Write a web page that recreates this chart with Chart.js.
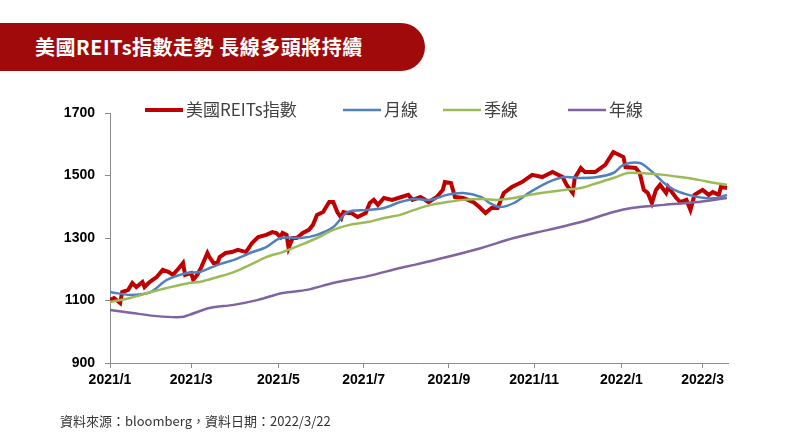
<!DOCTYPE html>
<html>
<head>
<meta charset="utf-8">
<script src="https://cdn.jsdelivr.net/npm/chart.js@4.4.0/dist/chart.umd.min.js"></script>
<style>
body{margin:0;width:800px;height:440px;background:#fff;position:relative;overflow:hidden;font-family:"Noto Sans CJK TC",sans-serif}
#banner{position:absolute;left:0;top:23px;width:425px;height:48px;background:#a00a0a;border-radius:0 24px 24px 0;color:#fff;font-size:20px;font-weight:bold;line-height:48px;padding-left:35px;box-sizing:border-box;white-space:nowrap;letter-spacing:0.5px}
#chart{position:absolute;left:0;top:0}
#note{position:absolute;left:60px;top:411px;font-size:13px;color:#333}
</style>
</head>
<body>
<div id="banner">美國REITs指數走勢 長線多頭將持續</div>
<canvas id="chart" width="800" height="440"></canvas>
<div id="note">資料來源：bloomberg，資料日期：2022/3/22</div>
<script>
// x = trading day count since 2021/1/4
var tickDays = [0, 40, 83, 125, 167, 209, 252, 292]
var tickLabels = ['2021/1', '2021/3', '2021/5', '2021/7', '2021/9', '2021/11', '2022/1', '2022/3']

var reitDays = [0,2,5,6,9,11,13,16,17,19,21,23,26,29,31,34,36,37,40,41,43,45,48,49,51,53,54,57,60,63,67,70,73,77,80,82,84,85,87,88,90,92,95,98,100,102,105,108,110,112,114,115,117,119,122,126,128,130,132,135,139,142,147,149,153,157,161,164,165,168,170,174,179,182,185,188,191,194,198,203,208,213,218,223,225,228,229,232,234,239,244,248,253,254,259,261,263,265,267,269,271,274,275,279,281,284,286,288,292,295,297,300,301,304]
var reitVals = [1102,1108,1092,1127,1134,1156,1143,1159,1143,1156,1166,1175,1198,1191,1182,1204,1220,1182,1188,1166,1182,1207,1252,1239,1220,1220,1239,1252,1255,1262,1255,1284,1303,1310,1319,1316,1303,1316,1310,1268,1300,1300,1316,1326,1342,1374,1383,1415,1415,1383,1364,1383,1380,1380,1367,1380,1412,1422,1406,1428,1422,1428,1438,1422,1431,1415,1431,1454,1479,1476,1431,1428,1415,1399,1380,1396,1396,1444,1463,1479,1502,1495,1511,1495,1470,1444,1492,1524,1511,1511,1534,1575,1559,1527,1524,1508,1454,1444,1412,1454,1470,1444,1463,1428,1415,1422,1390,1438,1454,1438,1447,1438,1463,1460]

var monthDays = [0,10,20,28,38,44,53,61,69,77,84,94,102,110,117,127,135,143,150,158,166,174,183,187,192,199,207,216,224,232,240,248,253,261,266,273,278,285,293,299,304]
var monthVals = [1127,1118,1127,1166,1188,1191,1214,1230,1252,1271,1300,1300,1310,1335,1383,1390,1396,1415,1425,1422,1438,1444,1431,1412,1399,1412,1447,1479,1495,1492,1495,1508,1534,1540,1518,1476,1454,1438,1428,1428,1438]

var quarterDays = [0,10,20,28,39,44,53,61,69,77,85,94,102,110,118,127,135,143,150,158,166,174,183,191,199,207,216,224,232,240,248,255,261,273,281,290,298,304]
var quarterVals = [1095,1108,1127,1140,1156,1159,1175,1191,1214,1239,1255,1278,1300,1326,1342,1351,1364,1374,1390,1406,1415,1422,1425,1422,1428,1438,1447,1454,1460,1476,1492,1508,1508,1502,1495,1486,1476,1470]

var yearDays = [0,11,23,35,39,49,61,73,85,97,110,127,143,150,166,183,199,216,232,248,257,273,290,304]
var yearVals = [1070,1060,1050,1047,1054,1076,1086,1102,1124,1134,1156,1178,1204,1214,1239,1268,1300,1326,1351,1383,1396,1406,1415,1428]

function toPoints(days, vals){
  return days.map(function(d, i){ return {x: d, y: vals[i]} })
}

var legendX = [145, 343, 443, 568]

// legend sits on the 1700 line, so draw it by hand
var topLegend = {
  id: 'topLegend',
  afterDraw: function(chart){
    var ctx = chart.ctx
    var y = chart.chartArea.top - 3
    ctx.save()
    ctx.font = '17px "Noto Sans CJK TC"'
    ctx.textBaseline = 'middle'
    chart.data.datasets.forEach(function(ds, i){
      var x = legendX[i]
      ctx.strokeStyle = ds.borderColor
      ctx.lineWidth = ds.borderWidth
      ctx.beginPath()
      ctx.moveTo(x, y)
      ctx.lineTo(x + 38, y)
      ctx.stroke()
      ctx.fillStyle = '#404040'
      ctx.fillText(ds.label, x + 41, y)
    })
    ctx.restore()
  }
}

var axisColor = '#8c8c8c'
var tickFont = {family: '"Liberation Sans", sans-serif', size: 14, weight: 'bold'}

new Chart(document.getElementById('chart'), {
  type: 'line',
  data: {
    datasets: [
      {label: '美國REITs指數', data: toPoints(reitDays, reitVals), borderColor: '#c00000', borderWidth: 4, tension: 0, order: 4},
      {label: '月線', data: toPoints(monthDays, monthVals), borderColor: '#4f81bd', borderWidth: 2.5, tension: 0.3, order: 3},
      {label: '季線', data: toPoints(quarterDays, quarterVals), borderColor: '#9bbb59', borderWidth: 2.5, tension: 0.3, order: 2},
      {label: '年線', data: toPoints(yearDays, yearVals), borderColor: '#8064a2', borderWidth: 2.5, tension: 0.3, order: 1}
    ]
  },
  options: {
    responsive: false,
    animation: false,
    elements: {point: {radius: 0}},
    layout: {padding: {left: 0, right: 72, top: 113, bottom: 37}},
    plugins: {legend: {display: false}, tooltip: {enabled: false}},
    scales: {
      x: {
        type: 'linear',
        min: 0,
        max: 304.5,
        afterBuildTicks: function(axis){
          axis.ticks = tickDays.map(function(d){ return {value: d} })
        },
        afterFit: function(axis){ axis.height = 40 },
        ticks: {
          autoSkip: false,
          maxRotation: 0,
          color: '#000',
          font: tickFont,
          padding: 4,
          callback: function(v){ return tickLabels[tickDays.indexOf(v)] }
        },
        grid: {drawOnChartArea: false, tickLength: 5, color: axisColor},
        border: {color: axisColor}
      },
      y: {
        min: 900,
        max: 1700,
        afterFit: function(axis){ axis.width = 110 },
        ticks: {
          stepSize: 200,
          color: '#000',
          font: tickFont,
          padding: 10,
          callback: function(v){ return String(v) }
        },
        grid: {drawOnChartArea: false, tickLength: 5, color: axisColor},
        border: {color: axisColor}
      }
    }
  },
  plugins: [topLegend]
})
</script>
</body>
</html>
